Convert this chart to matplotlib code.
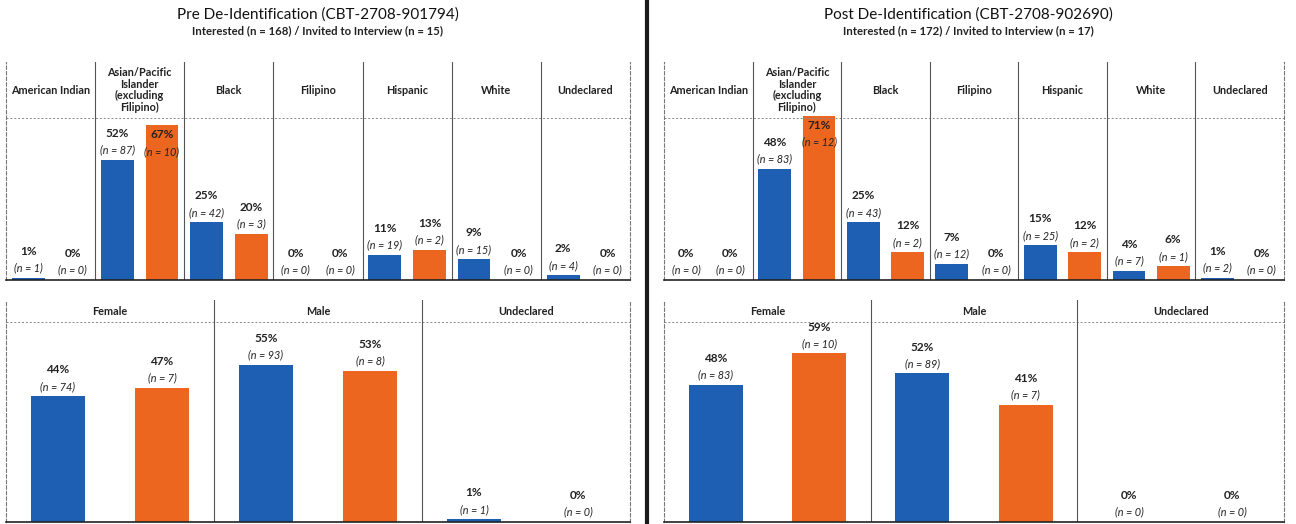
import matplotlib
matplotlib.use("Agg")
import matplotlib.pyplot as plt
from matplotlib.lines import Line2D

plt.rcParams['font.family'] = ['Lato', 'DejaVu Sans']

# ---- data ----
races = ["American Indian", "Asian/Pacific\nIslander\n(excluding\nFilipino)", "Black",
         "Filipino", "Hispanic", "White", "Undeclared"]
genders = ["Female", "Male", "Undeclared"]

pre_race_interested = [1, 52, 25, 0, 11, 9, 2]
pre_race_interested_n = [1, 87, 42, 0, 19, 15, 4]
pre_race_invited = [0, 67, 20, 0, 13, 0, 0]
pre_race_invited_n = [0, 10, 3, 0, 2, 0, 0]

post_race_interested = [0, 48, 25, 7, 15, 4, 1]
post_race_interested_n = [0, 83, 43, 12, 25, 7, 2]
post_race_invited = [0, 71, 12, 0, 12, 6, 0]
post_race_invited_n = [0, 12, 2, 0, 2, 1, 0]

pre_gender_interested = [44, 55, 1]
pre_gender_interested_n = [74, 93, 1]
pre_gender_invited = [47, 53, 0]
pre_gender_invited_n = [7, 8, 0]

post_gender_interested = [48, 52, 0]
post_gender_interested_n = [83, 89, 0]
post_gender_invited = [59, 41, 0]
post_gender_invited_n = [10, 7, 0]

titles = ["Pre De-Identification (CBT-2708-901794)", "Post De-Identification (CBT-2708-902690)"]
subtitles = ["Interested (n = 168) / Invited to Interview (n = 15)",
             "Interested (n = 172) / Invited to Interview (n = 17)"]

BLUE = "#1f5fb3"
ORANGE = "#ec661f"
W, H = 1296, 524

fig = plt.figure(figsize=(W / 100, H / 100), dpi=100)


def px_axes(x0, y0, x1, y1):
    return fig.add_axes([x0 / W, 1 - y1 / H, (x1 - x0) / W, (y1 - y0) / H])


def draw_block(ax, cats, a, an, b, bn, ytop, width, hfont):
    k = len(cats)
    ax.set_xlim(-0.5, k - 0.5)
    ax.set_ylim(0, ytop)
    ax.set_xticks([])
    ax.set_yticks([])
    ax.spines["top"].set_visible(False)
    for s in ["left", "right"]:
        ax.spines[s].set_color("#777777")
        ax.spines[s].set_linestyle((0, (3, 2)))
        ax.spines[s].set_linewidth(0.8)
    ax.spines["bottom"].set_color("#222222")
    ax.spines["bottom"].set_linewidth(1.2)
    ax.axhline(70, color="#888888", ls=(0, (2, 2)), lw=0.7)
    for i in range(1, k):
        ax.axvline(i - 0.5, color="#555555", lw=0.8)
    for i, c in enumerate(cats):
        ax.text(i, (70 + ytop) / 2, c, ha="center", va="center", fontsize=hfont,
                fontweight="bold", color="#222222", linespacing=1.05)
    xs_a = [i - 0.25 for i in range(k)]
    xs_b = [i + 0.25 for i in range(k)]
    ax.bar(xs_a, a, width=width, color=BLUE)
    ax.bar(xs_b, b, width=width, color=ORANGE)
    for xs, vals, ns in ((xs_a, a, an), (xs_b, b, bn)):
        for x, v, n in zip(xs, vals, ns):
            if v > 60:
                o_n, o_p = -19, -7      # label sits inside the bar top
            else:
                o_n, o_p = 7, 19
            ax.annotate(f"(n = {n})", (x, v), xytext=(0, o_n), textcoords="offset points",
                        ha="center", va="center", fontsize=7.8, style="italic", color="#222222")
            ax.annotate(f"{v}%", (x, v), xytext=(0, o_p), textcoords="offset points",
                        ha="center", va="center", fontsize=8.5, fontweight="bold", color="#222222")


halves = [
    (6, 630, 318,
     (pre_race_interested, pre_race_interested_n, pre_race_invited, pre_race_invited_n),
     (pre_gender_interested, pre_gender_interested_n, pre_gender_invited, pre_gender_invited_n)),
    (664, 1284, 968,
     (post_race_interested, post_race_interested_n, post_race_invited, post_race_invited_n),
     (post_gender_interested, post_gender_interested_n, post_gender_invited, post_gender_invited_n)),
]

for h, (x0, x1, xc, race_data, gender_data) in enumerate(halves):
    fig.text(xc / W, 1 - 15 / H, titles[h], ha="center", va="center", fontsize=11, color="#111111")
    fig.text(xc / W, 1 - 31 / H, subtitles[h], ha="center", va="center", fontsize=8.2,
             fontweight="bold", color="#222222")
    ax_top = px_axes(x0, 62, x1, 280)
    draw_block(ax_top, races, *race_data, ytop=70 * 218 / 162, width=0.37, hfont=7.8)
    ax_bot = px_axes(x0, 300, x1, 522)
    draw_block(ax_bot, genders, *gender_data, ytop=70 * 222 / 200, width=0.26, hfont=7.8)

fig.add_artist(Line2D([647 / W, 647 / W], [0, 1], color="#1a1a1a", lw=3))

fig.savefig("out.png", dpi=100)
